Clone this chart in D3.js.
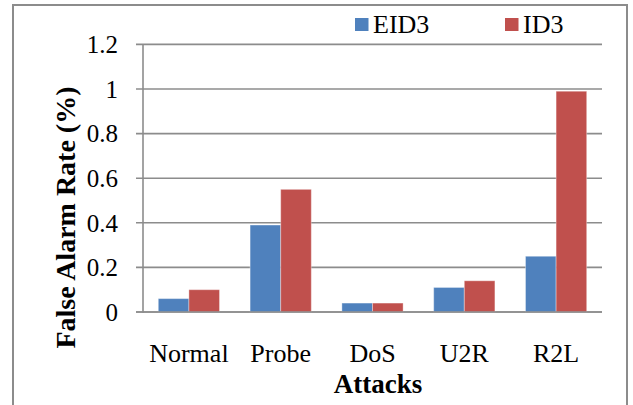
<!DOCTYPE html>
<html>
<head>
<meta charset="utf-8">
<script src="https://cdn.jsdelivr.net/npm/d3@7"></script>
<style>
  html, body { margin: 0; padding: 0; background: #fff; }
  svg { display: block; }
  text { font-family: "Liberation Serif", "Times New Roman", serif; fill: #000; }
</style>
</head>
<body>
<svg id="chart" width="633" height="405"></svg>
<script>
const categories = ["Normal", "Probe", "DoS", "U2R", "R2L"];
const seriesNames = ["EID3", "ID3"];
const eid3 = [0.06, 0.39, 0.04, 0.11, 0.25];
const id3 = [0.10, 0.55, 0.04, 0.14, 0.99];
const yTicks = [0, 0.2, 0.4, 0.6, 0.8, 1, 1.2];
const yTickLabels = ["0", "0.2", "0.4", "0.6", "0.8", "1", "1.2"];
const colors = ["#4F81BD", "#C0504D"];

const values = [eid3, id3];
const svg = d3.select("#chart");
const plotLeft = 143, plotRight = 602, plotTop = 44.4, plotBottom = 312;

// outer frame
svg.append("rect").attr("x", 13).attr("y", 5).attr("width", 614).attr("height", 430)
  .attr("fill", "none").attr("stroke", "#8c8c8c").attr("stroke-width", 2);

const y = d3.scaleLinear().domain([0, 1.2]).range([plotBottom, plotTop]);
const x0 = d3.scaleBand().domain(categories).range([plotLeft, plotRight]).padding(0);
const x1 = d3.scaleBand().domain(seriesNames).range([x0.bandwidth() / 6, x0.bandwidth() * 5 / 6]).padding(0);

// gridlines
svg.append("g").selectAll("line").data(yTicks).join("line")
  .attr("x1", 136).attr("x2", plotRight)
  .attr("y1", d => y(d)).attr("y2", d => y(d))
  .attr("stroke", "#8c8c8c").attr("stroke-width", 1.6);

// y axis line
svg.append("line").attr("x1", plotLeft).attr("x2", plotLeft).attr("y1", plotTop).attr("y2", plotBottom + 1)
  .attr("stroke", "#8c8c8c").attr("stroke-width", 1.6);

// y tick labels
svg.append("g").selectAll("text").data(yTicks).join("text")
  .attr("x", 118).attr("y", d => y(d)).attr("dy", "0.35em")
  .attr("text-anchor", "end").attr("font-size", 25)
  .text((d, i) => yTickLabels[i]);

// bars
const groups = svg.append("g").selectAll("g").data(categories).join("g")
  .attr("transform", d => `translate(${x0(d)},0)`);
groups.selectAll("rect").data((d, i) => seriesNames.map((s, j) => ({ s, v: values[j][i], j })))
  .join("rect")
  .attr("x", d => x1(d.s))
  .attr("width", x1.bandwidth())
  .attr("y", d => y(d.v))
  .attr("height", d => plotBottom - y(d.v))
  .attr("fill", d => colors[d.j])
  .attr("stroke", "rgba(255,255,255,0.35)").attr("stroke-width", 1);

// x axis line on top
svg.append("line").attr("x1", 136).attr("x2", plotRight).attr("y1", plotBottom).attr("y2", plotBottom)
  .attr("stroke", "#8c8c8c").attr("stroke-width", 1.6);

// x labels
svg.append("g").selectAll("text").data(categories).join("text")
  .attr("x", d => x0(d) + x0.bandwidth() / 2).attr("y", 362)
  .attr("text-anchor", "middle").attr("font-size", 26)
  .text(d => d);

// x title
svg.append("text").attr("x", 378).attr("y", 393).attr("text-anchor", "middle")
  .attr("font-size", 27).attr("font-weight", "bold").text("Attacks");

// y title
svg.append("text").attr("transform", "translate(75,217.5) rotate(-90)")
  .attr("text-anchor", "middle").attr("font-size", 28).attr("font-weight", "bold")
  .text("False Alarm Rate (%)");

// legend
const legX = [355, 505];
seriesNames.forEach((s, i) => {
  svg.append("rect").attr("x", legX[i]).attr("y", 18).attr("width", 13.5).attr("height", 13)
    .attr("fill", colors[i]);
  svg.append("text").attr("x", legX[i] + 18).attr("y", 33).attr("font-size", 26).text(s);
});
</script>
</body>
</html>
